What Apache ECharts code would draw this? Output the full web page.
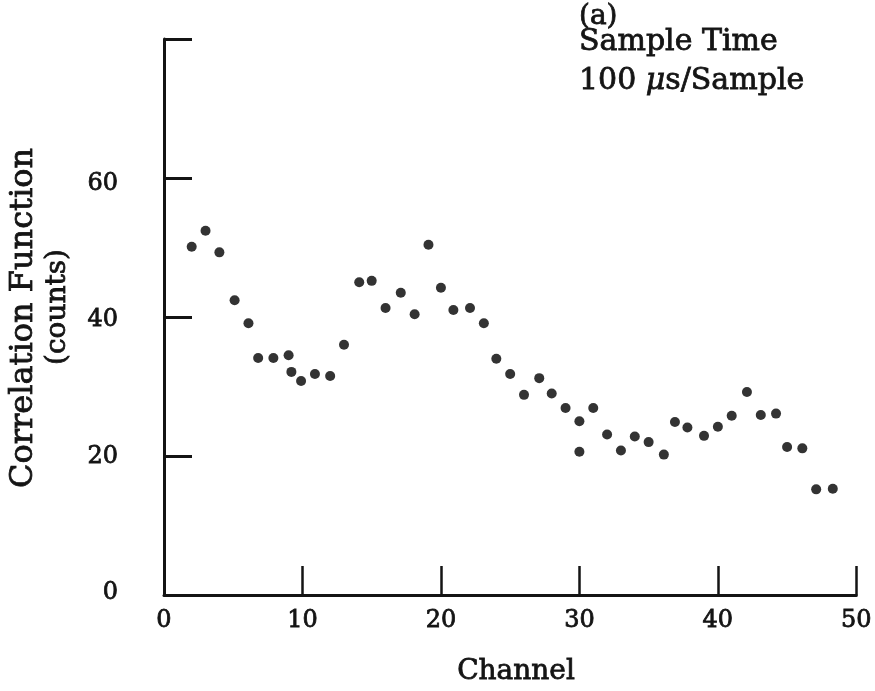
<!DOCTYPE html>
<html>
<head>
<meta charset="utf-8">
<script src="https://cdn.jsdelivr.net/npm/echarts@6/dist/echarts.min.js"></script>
<style>
html,body{margin:0;padding:0;background:#fff;}
#chart{width:875px;height:691px;}
</style>
</head>
<body>
<div id="chart"></div>
<script>
// Data
var channels = [2.0, 3.0, 4.0, 5.1, 6.1, 6.8, 7.9, 9.0, 9.2, 9.9, 10.9, 12.0, 13.0, 14.1, 15.0, 16.0, 17.1, 18.1, 19.1, 20.0,
                20.9, 22.1, 23.1, 24.0, 25.0, 26.0, 27.1, 28.0, 29.0, 30.0, 30.0, 31.0, 32.0, 33.0, 34.0, 35.0, 36.1, 36.9, 37.8, 39.0,
                40.0, 41.0, 42.1, 43.1, 44.2, 45.0, 46.1, 47.1, 48.3];
var counts   = [50.1, 52.4, 49.3, 42.4, 39.1, 34.1, 34.1, 34.5, 32.1, 30.8, 31.8, 31.5, 36.0, 45.0, 45.2, 41.3, 43.5, 40.4, 50.4, 44.2,
                41.0, 41.3, 39.1, 34.0, 31.8, 28.8, 31.2, 29.0, 26.9, 25.0, 20.6, 26.9, 23.1, 20.8, 22.8, 22.0, 20.2, 24.9, 24.1, 22.9,
                24.2, 25.8, 29.2, 25.9, 26.1, 21.3, 21.1, 15.2, 15.3];
var xTickLabels = [0, 10, 20, 30, 40, 50];
var yTickLabels = [0, 20, 40, 60];

var points = channels.map(function (c, i) { return [c, counts[i]]; });

var FONT = 'DejaVu Serif';
var INK = '#141414';
var THICK = 0.8;

function txt(x, y, text, size, align, rot) {
  return {
    type: 'text', x: x, y: y, rotation: rot || 0,
    style: {text: text, fill: INK, stroke: INK, lineWidth: THICK,
            font: size + 'px "DejaVu Serif"', align: align, verticalAlign: 'middle'}
  };
}

var chart = echarts.init(document.getElementById('chart'), null, {renderer: 'canvas'});
var muLine = txt(579, 81, '100 {i|\u03bc}s/Sample', 30, 'left');
muLine.style.rich = {i: {fontStyle: 'italic', fontSize: 30, fontFamily: FONT, fill: INK, stroke: INK, lineWidth: THICK}};

chart.setOption({
  backgroundColor: '#ffffff',
  animation: false,
  grid: {left: 164, top: 39, width: 694, height: 556},
  xAxis: {
    type: 'value', min: 0, max: 50, interval: 10,
    axisLine: {show: true, lineStyle: {color: INK, width: 3}},
    axisTick: {show: true, inside: true, length: 29, lineStyle: {color: INK, width: 2.5}},
    axisLabel: {
      show: true, margin: 14, color: INK, fontFamily: FONT, fontSize: 24,
      textBorderColor: INK, textBorderWidth: THICK,
      customValues: xTickLabels
    },
    splitLine: {show: false}
  },
  yAxis: [{
    type: 'value', min: 0, max: 80, interval: 20,
    axisLine: {show: true, lineStyle: {color: INK, width: 3}},
    axisTick: {show: true, inside: true, length: 28, lineStyle: {color: INK, width: 3}},
    axisLabel: {show: false},
    splitLine: {show: false}
  }, {
    type: 'value', min: -0.367, max: 81.27, position: 'left',
    axisLine: {show: false},
    axisTick: {show: false},
    splitLine: {show: false},
    axisLabel: {
      show: true, margin: 46, color: INK, fontFamily: FONT, fontSize: 24,
      textBorderColor: INK, textBorderWidth: THICK,
      customValues: yTickLabels
    }
  }],
  series: [{
    type: 'scatter',
    xAxisIndex: 0, yAxisIndex: 0,
    data: points,
    symbol: 'circle',
    symbolSize: 10,
    itemStyle: {color: '#000000'}
  }],
  graphic: [
    txt(24, 318, 'Correlation Function', 32, 'center', Math.PI / 2),
    txt(58, 307, '(counts)', 28, 'center', Math.PI / 2),
    txt(516, 672, 'Channel', 28, 'center'),
    txt(579, 17, '(a)', 28, 'left'),
    txt(579, 42, 'Sample Time', 30, 'left'),
    muLine
  ]
});
</script>
</body>
</html>
